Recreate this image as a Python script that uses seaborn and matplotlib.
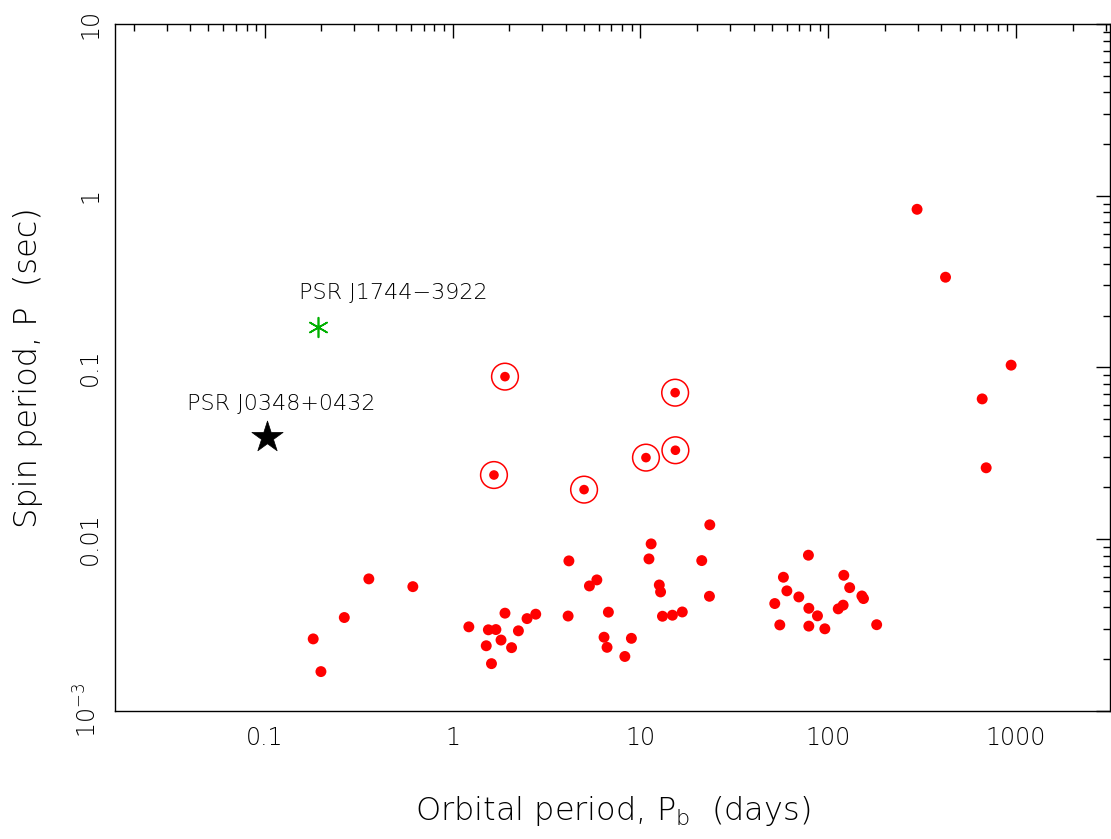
import numpy as np
import pandas as pd
import matplotlib
matplotlib.use("Agg")
import matplotlib.pyplot as plt
import seaborn as sns
from matplotlib.ticker import FixedLocator, FixedFormatter, LogLocator, NullFormatter

# ---------------- data ----------------
# binary millisecond / recycled pulsars (filled red dots)
binary_pb = [0.181, 0.199, 0.265, 0.358, 0.614, 1.22, 1.55, 1.70, 1.90, 1.51,
             1.81, 1.61, 2.06, 2.24, 2.49, 2.77, 4.12, 4.16, 5.35, 5.86,
             6.75, 6.40, 6.64, 8.95, 8.26, 11.4, 11.1, 12.6, 12.8, 13.1,
             14.8, 16.7, 21.2, 23.4, 23.3, 78.4, 57.7, 60.2, 51.9, 69.7,
             55.2, 78.8, 87.6, 78.8, 95.9, 121, 130, 113, 120, 151,
             154, 181, 297, 421, 660, 693, 941]
binary_p = [0.00262, 0.00169, 0.00349, 0.00586, 0.00528, 0.00308, 0.00296, 0.00297, 0.00370, 0.00239,
            0.00258, 0.00188, 0.00233, 0.00292, 0.00344, 0.00365, 0.00356, 0.00746, 0.00533, 0.00578,
            0.00375, 0.00268, 0.00234, 0.00264, 0.00207, 0.00937, 0.00766, 0.00540, 0.00492, 0.00355,
            0.00360, 0.00376, 0.00749, 0.0121, 0.00464, 0.00805, 0.00599, 0.00499, 0.00421, 0.00460,
            0.00316, 0.00395, 0.00357, 0.00311, 0.00300, 0.00615, 0.00521, 0.00392, 0.00412, 0.00466,
            0.00450, 0.00317, 0.833, 0.335, 0.0655, 0.0260, 0.103]

# circled (double neutron star) systems
ring_pb = [1.90, 1.66, 5.01, 10.7, 15.3, 15.35]
ring_p = [0.0883, 0.0236, 0.0194, 0.0298, 0.0712, 0.0329]

# special pulsars
j0348_pb = [0.1024]
j0348_p = [0.0394]
j1744_pb = [0.193]
j1744_p = [0.171]

annot_text = ["PSR J1744\u22123922", "PSR J0348+0432"]
annot_x = [0.482, 0.122]
annot_y = [0.249, 0.0565]

x_ticks = [0.1, 1, 10, 100, 1000]
x_tick_labels = ["0.1", "1", "10", "100", "1000"]
y_ticks = [1e-3, 1e-2, 0.1, 1, 10]
y_tick_labels = [r"$\mathregular{10^{-3}}$", "0.01", "0.1", "1", "10"]

x_label = r"Orbital period, P$_\mathregular{b}$  (days)"
y_label = "Spin period, P  (sec)"

# ---------------- style ----------------
sns.set_style("white")
plt.rcParams["font.family"] = ["DejaVu Sans"]
plt.rcParams["font.weight"] = "light"
plt.rcParams["axes.labelweight"] = "light"
plt.rcParams["mathtext.fontset"] = "custom"
plt.rcParams["mathtext.rm"] = "DejaVu Sans:light"
plt.rcParams["mathtext.default"] = "regular"
plt.rcParams["text.color"] = "black"
plt.rcParams["axes.labelcolor"] = "black"
plt.rcParams["xtick.color"] = "black"
plt.rcParams["ytick.color"] = "black"
plt.rcParams["axes.edgecolor"] = "black"
plt.rcParams["axes.linewidth"] = 1.0

fig = plt.figure(figsize=(11.11, 8.39), dpi=100)
ax = fig.add_axes([0.1031, 0.1529, 0.8960, 0.8185])

bin_df = pd.DataFrame({"pb": binary_pb, "p": binary_p})
ring_df = pd.DataFrame({"pb": ring_pb, "p": ring_p})
j0348_df = pd.DataFrame({"pb": j0348_pb, "p": j0348_p})
j1744_df = pd.DataFrame({"pb": j1744_pb, "p": j1744_p})

sns.scatterplot(data=bin_df, x="pb", y="p", color="#ff0000", s=62,
                edgecolor="none", ax=ax, zorder=3)
sns.scatterplot(data=ring_df, x="pb", y="p", color="#ff0000", s=48,
                edgecolor="none", ax=ax, zorder=3)
sns.scatterplot(data=ring_df, x="pb", y="p", color="#ff0000", s=370,
                facecolor="none", edgecolor="#ff0000", linewidth=1.1,
                ax=ax, zorder=3)
sns.scatterplot(data=j0348_df, x="pb", y="p", color="black", marker="*",
                s=560, edgecolor="black", linewidth=0.5, ax=ax, zorder=4)
sns.scatterplot(data=j1744_df, x="pb", y="p", color="#00b000", marker=(6, 2, 0),
                s=200, linewidth=1.2, ax=ax, zorder=4)

for t, xx, yy in zip(annot_text, annot_x, annot_y):
    ax.text(xx, yy, t, ha="center", va="baseline", fontsize=16,
            color="black", fontweight="light")

ax.set_xscale("log")
ax.set_yscale("log")
ax.set_xlim(10 ** -1.8, 10 ** 3.5)
ax.set_ylim(1e-3, 10)

ax.xaxis.set_major_locator(FixedLocator(x_ticks))
ax.xaxis.set_major_formatter(FixedFormatter(x_tick_labels))
ax.yaxis.set_major_locator(FixedLocator(y_ticks))
ax.yaxis.set_major_formatter(FixedFormatter(y_tick_labels))
ax.xaxis.set_minor_locator(LogLocator(base=10, subs=np.arange(2, 10), numticks=100))
ax.yaxis.set_minor_locator(LogLocator(base=10, subs=np.arange(2, 10), numticks=100))
ax.xaxis.set_minor_formatter(NullFormatter())
ax.yaxis.set_minor_formatter(NullFormatter())

ax.tick_params(which="both", direction="in", top=True, right=True,
               width=1.0, color="black", labelcolor="black")
ax.tick_params(which="major", length=10)
ax.tick_params(which="minor", length=5)
ax.tick_params(axis="x", which="major", pad=11, labelsize=17)
ax.tick_params(axis="y", which="major", pad=9, labelsize=17, labelrotation=90)
for lab in ax.get_yticklabels():
    lab.set_va("center")

ax.set_xlabel(x_label, fontsize=23, fontweight="light")
ax.set_ylabel(y_label, fontsize=23, fontweight="light")
ax.xaxis.set_label_coords(0.5, -0.122)
ax.yaxis.set_label_coords(-0.072, 0.5)

for sp in ax.spines.values():
    sp.set_visible(True)
    sp.set_color("black")
    sp.set_linewidth(1.0)

ax.grid(False)
fig.savefig("out.png", dpi=100)
